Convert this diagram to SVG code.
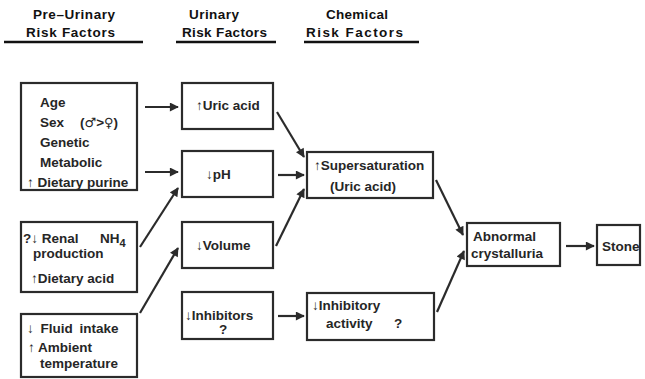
<svg xmlns="http://www.w3.org/2000/svg" width="645" height="379" viewBox="0 0 645 379">
  <style>
    .bg { fill: #ffffff; }
    .box { fill: #ffffff; stroke: #2b2b2b; stroke-width: 2.2; }
    .t { font-family: "Liberation Sans", Arial, "DejaVu Sans", sans-serif; font-weight: bold; font-size: 13.5px; fill: #262626; }
    .sym { font-family: "DejaVu Sans", sans-serif; font-weight: bold; font-size: 13px; }
    .h { font-family: "Liberation Sans", Arial, "DejaVu Sans", sans-serif; font-weight: bold; font-size: 13.5px; fill: #111111; }
    .rule { stroke: #111111; stroke-width: 2.4; }
    .edge { stroke: #2b2b2b; stroke-width: 2.2; fill: none; marker-end: url(#head); }
  </style>
  <defs>
    <marker id="head" viewBox="0 0 10 10" refX="9" refY="5" markerWidth="11" markerHeight="9" markerUnits="userSpaceOnUse" orient="auto">
      <path d="M0,0 L10,5 L0,10 Z" fill="#2b2b2b"/>
    </marker>
  </defs>
  <rect class="bg" x="0" y="0" width="645" height="379"/>

  <!-- column headings -->
  <g id="headings">
    <text class="h" x="33" y="19" textLength="82" lengthAdjust="spacing">Pre–Urinary</text>
    <text class="h" x="26" y="37" textLength="89" lengthAdjust="spacing">Risk  Factors</text>
    <line class="rule" x1="4" y1="42" x2="143" y2="42"/>
    <text class="h" x="189" y="19" textLength="50" lengthAdjust="spacing">Urinary</text>
    <text class="h" x="182" y="37" textLength="85" lengthAdjust="spacing">Risk Factors</text>
    <line class="rule" x1="176" y1="42" x2="276" y2="42"/>
    <text class="h" x="326" y="19" textLength="62" lengthAdjust="spacing">Chemical</text>
    <text class="h" x="306" y="37" textLength="97" lengthAdjust="spacing">Risk  Factors</text>
    <line class="rule" x1="304" y1="42" x2="419" y2="42"/>
  </g>

  <!-- pre-urinary factors -->
  <g id="n-general">
    <rect class="box" x="21" y="83" width="116" height="107"/>
    <text class="t" x="40" y="107">Age</text>
    <text class="t" x="40" y="127">Sex<tspan x="80">(</tspan><tspan class="sym">♂</tspan>&gt;<tspan class="sym">♀</tspan>)</text>
    <text class="t" x="40" y="147">Genetic</text>
    <text class="t" x="40" y="167">Metabolic</text>
    <text class="t" x="27" y="187">↑ Dietary purine</text>
  </g>
  <g id="n-renal">
    <rect class="box" x="21" y="222" width="116" height="70"/>
    <text class="t" x="23" y="243">?↓ Renal<tspan x="100">NH</tspan><tspan dy="4" font-size="11">4</tspan></text>
    <text class="t" x="33" y="258">production</text>
    <text class="t" x="31" y="283">↑Dietary acid</text>
  </g>
  <g id="n-fluid">
    <rect class="box" x="21" y="314" width="116" height="63"/>
    <text class="t" x="27" y="333" word-spacing="3">↓ Fluid intake</text>
    <text class="t" x="28" y="352">↑ Ambient</text>
    <text class="t" x="40" y="368">temperature</text>
  </g>

  <!-- urinary factors -->
  <g id="n-uric">
    <rect class="box" x="182" y="83" width="91" height="46"/>
    <text class="t" x="196" y="110">↑Uric acid</text>
  </g>
  <g id="n-ph">
    <rect class="box" x="182" y="151" width="91" height="46"/>
    <text class="t" x="206" y="179">↓pH</text>
  </g>
  <g id="n-volume">
    <rect class="box" x="182" y="222" width="91" height="46"/>
    <text class="t" x="196" y="250">↓Volume</text>
  </g>
  <g id="n-inhibitors">
    <rect class="box" x="182" y="292" width="91" height="47"/>
    <text class="t" x="185" y="320">↓Inhibitors</text>
    <text class="t" x="219" y="334">?</text>
  </g>

  <!-- chemical factors -->
  <g id="n-supersat">
    <rect class="box" x="307" y="152" width="126" height="46"/>
    <text class="t" x="314" y="170">↑Supersaturation</text>
    <text class="t" x="330" y="191">(Uric acid)</text>
  </g>
  <g id="n-inhibactivity">
    <rect class="box" x="307" y="293" width="127" height="47"/>
    <text class="t" x="312" y="310">↓Inhibitory</text>
    <text class="t" x="326" y="328">activity<tspan x="394">?</tspan></text>
  </g>

  <!-- outcome -->
  <g id="n-crystalluria">
    <rect class="box" x="467" y="223" width="93" height="43"/>
    <text class="t" x="473" y="241">Abnormal</text>
    <text class="t" x="471" y="258">crystalluria</text>
  </g>
  <g id="n-stone">
    <rect class="box" x="597" y="225" width="43" height="40"/>
    <text class="t" x="602" y="251">Stone</text>
  </g>

  <!-- connectors -->
  <g id="connectors">
    <line class="edge" x1="145" y1="107" x2="178" y2="107"/>
    <line class="edge" x1="145" y1="172" x2="178" y2="172"/>
    <line class="edge" x1="140" y1="247" x2="178" y2="188"/>
    <line class="edge" x1="140" y1="313" x2="178" y2="248"/>
    <line class="edge" x1="277" y1="112" x2="304" y2="157"/>
    <line class="edge" x1="278" y1="175" x2="304" y2="175"/>
    <line class="edge" x1="276" y1="246" x2="304" y2="189"/>
    <line class="edge" x1="278" y1="316" x2="304" y2="316"/>
    <line class="edge" x1="436" y1="180" x2="463" y2="235"/>
    <line class="edge" x1="437" y1="312" x2="464" y2="251"/>
    <line class="edge" x1="566" y1="246" x2="594" y2="246"/>
  </g>
</svg>
